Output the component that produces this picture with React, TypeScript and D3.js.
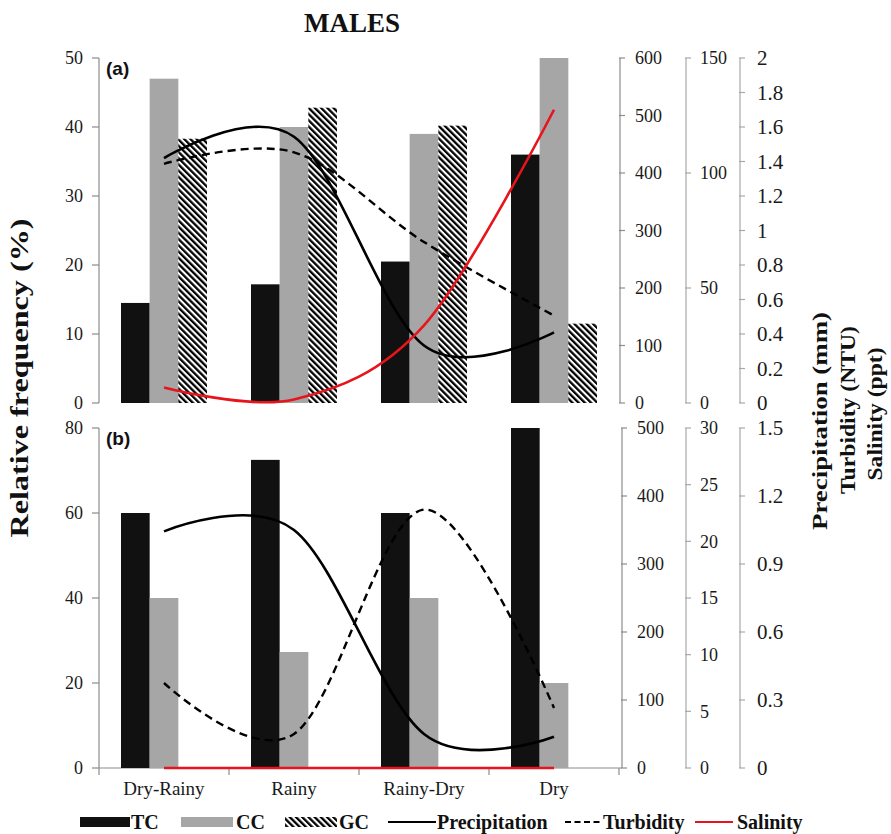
import React from "react";
import * as d3 from "d3";

const categories = ["Dry-Rainy", "Rainy", "Rainy-Dry", "Dry"];
const groups = ["TC", "CC", "GC"];

// Panel (a)
const tcA = [14.5, 17.2, 20.5, 36];
const ccA = [47, 40, 39, 50];
const gcA = [38.3, 42.8, 40.2, 11.5];
const precipA = [426, 463, 100, 123];
const turbA = [104, 109, 70, 38];
const salA = [0.09, 0.02, 0.45, 1.7];

// Panel (b)
const tcB = [60, 72.5, 60, 80];
const ccB = [40, 27.3, 40, 20];
const gcB = [0, 0, 0, 0];
const precipB = [348, 350, 50, 46];
const turbB = [7.5, 3, 22.8, 5.3];
const salB = [0, 0, 0, 0];

const freqTicksA = [0, 10, 20, 30, 40, 50];
const precipTicksA = [0, 100, 200, 300, 400, 500, 600];
const turbTicksA = [0, 50, 100, 150];
const salTicksA = [0, 0.2, 0.4, 0.6, 0.8, 1, 1.2, 1.4, 1.6, 1.8, 2];

const freqTicksB = [0, 20, 40, 60, 80];
const precipTicksB = [0, 100, 200, 300, 400, 500];
const turbTicksB = [0, 5, 10, 15, 20, 25, 30];
const salTicksB = [0, 0.3, 0.6, 0.9, 1.2, 1.5];

const SERIF =
  '"Liberation Serif", "Tinos", "Noto Serif", "DejaVu Serif", "FreeSerif", "Nimbus Roman", "Nimbus Roman No9 L", "Times New Roman", Times, serif';
const SANS = '"Liberation Sans", Arial, sans-serif';
const TC_COLOR = "#111111";
const CC_COLOR = "#a6a6a6";
const AXIS_COLOR = "#8c8c8c";
const RAXIS_COLOR = "#a8a8a8";
const TEXT_COLOR = "#1a1a1a";

const xBand = d3.scaleBand().domain(categories).range([99, 619]).padding(0);
const xInner = d3.scaleBand().domain(groups).range([22, 108]).padding(0);
const cx = (c: string) => (xBand(c) as number) + xBand.bandwidth() / 2;

const fmt = (v: number) => {
  const s = d3.format(".1f")(v);
  return s.endsWith(".0") ? s.slice(0, -2) : s;
};

type PanelProps = {
  top: number;
  bottom: number;
  freqMax: number;
  freqTicks: number[];
  precipMax: number;
  precipTicks: number[];
  turbMax: number;
  turbTicks: number[];
  salMax: number;
  salTicks: number[];
  tc: number[];
  cc: number[];
  gc: number[];
  precip: number[];
  turb: number[];
  sal: number[];
  label: string;
  precipAxisX: number;
  showXAxis: boolean;
};

function Panel(p: PanelProps) {
  const yF = d3.scaleLinear().domain([0, p.freqMax]).range([p.bottom, p.top]);
  const yP = d3.scaleLinear().domain([0, p.precipMax]).range([p.bottom, p.top]);
  const yT = d3.scaleLinear().domain([0, p.turbMax]).range([p.bottom, p.top]);
  const yS = d3.scaleLinear().domain([0, p.salMax]).range([p.bottom, p.top]);

  const curve = d3.curveCardinal.tension(0);
  const mk = (scale: d3.ScaleLinear<number, number>) =>
    d3
      .line<number>()
      .x((_, i) => cx(categories[i]))
      .y((d) => scale(d))
      .curve(curve);

  const series = [
    { key: "TC", vals: p.tc, fill: TC_COLOR },
    { key: "CC", vals: p.cc, fill: CC_COLOR },
    { key: "GC", vals: p.gc, fill: "url(#hatch)" },
  ];

  const rightAxis = (
    x: number,
    scale: d3.ScaleLinear<number, number>,
    ticks: number[],
    fontSize: number,
    labelDx: number,
    color: string
  ) => (
    <g>
      <line x1={x} x2={x} y1={scale(ticks[0])} y2={scale(ticks[ticks.length - 1])} stroke={color} strokeWidth={1.2} />
      {ticks.map((t) => (
        <g key={t}>
          <line x1={x - 1} x2={x + 5} y1={scale(t)} y2={scale(t)} stroke={color} strokeWidth={1.2} />
          <text
            x={x + labelDx}
            y={scale(t)}
            dy="0.35em"
            style={{ fontFamily: SERIF }}
            fontSize={fontSize}
            fill={TEXT_COLOR}
          >
            {fmt(t)}
          </text>
        </g>
      ))}
    </g>
  );

  return (
    <g>
      <line x1={99} x2={99} y1={p.bottom} y2={p.top} stroke={AXIS_COLOR} strokeWidth={1.2} />
      {p.freqTicks.map((t) => (
        <g key={t}>
          <line x1={92} x2={99} y1={yF(t)} y2={yF(t)} stroke={AXIS_COLOR} strokeWidth={1.2} />
          <text
            x={83}
            y={yF(t)}
            dy="0.35em"
            textAnchor="end"
            style={{ fontFamily: SERIF }}
            fontSize={18}
            fill={TEXT_COLOR}
          >
            {t}
          </text>
        </g>
      ))}

      {p.showXAxis && (
        <g>
          <line x1={99} x2={p.precipAxisX} y1={p.bottom} y2={p.bottom} stroke={AXIS_COLOR} strokeWidth={1.2} />
          {[...categories.map((c) => xBand(c) as number), 619].map((x, i) => (
            <line key={i} x1={x} x2={x} y1={p.bottom} y2={p.bottom + 7} stroke={AXIS_COLOR} strokeWidth={1.2} />
          ))}
        </g>
      )}

      {series.map((s) =>
        categories.map((c, i) =>
          s.vals[i] > 0 ? (
            <rect
              key={s.key + c}
              x={(xBand(c) as number) + (xInner(s.key) as number)}
              width={xInner.bandwidth()}
              y={yF(s.vals[i])}
              height={p.bottom - yF(s.vals[i])}
              fill={s.fill}
            />
          ) : null
        )
      )}

      {rightAxis(p.precipAxisX, yP, p.precipTicks, 18, 15, AXIS_COLOR)}
      {rightAxis(686, yT, p.turbTicks, 18, 14, RAXIS_COLOR)}
      {rightAxis(740, yS, p.salTicks, 21, 17, RAXIS_COLOR)}

      <path d={mk(yP)(p.precip) as string} fill="none" stroke="#000" strokeWidth={2.6} />
      <path d={mk(yT)(p.turb) as string} fill="none" stroke="#000" strokeWidth={2.4} strokeDasharray="8,5" />
      <path d={mk(yS)(p.sal) as string} fill="none" stroke="#e8141c" strokeWidth={2.6} />

      <text x={106} y={p.top + 17} style={{ fontFamily: SANS }} fontWeight="bold" fontSize={19} fill="#111">
        {p.label}
      </text>
    </g>
  );
}

export default function App() {
  const legendY = 822;
  return (
    <svg
      width={891}
      height={834}
      viewBox="0 0 891 834"
      style={{ position: "absolute", left: 0, top: 0, background: "#fff" }}
    >
      <defs>
        <pattern id="hatch" patternUnits="userSpaceOnUse" width={4.4} height={4.4} patternTransform="rotate(-45)">
          <rect x={0} y={0} width={4.4} height={4.4} fill="#fff" />
          <rect x={0} y={0} width={2.3} height={4.4} fill="#000" />
        </pattern>
      </defs>
      <rect x={0} y={0} width={891} height={834} fill="#fff" />

      <text x={352} y={32} textAnchor="middle" style={{ fontFamily: SERIF }} fontWeight="bold" fontSize={27} fill="#111">
        MALES
      </text>

      <Panel
        top={58}
        bottom={403}
        freqMax={50}
        freqTicks={freqTicksA}
        precipMax={600}
        precipTicks={precipTicksA}
        turbMax={150}
        turbTicks={turbTicksA}
        salMax={2}
        salTicks={salTicksA}
        tc={tcA}
        cc={ccA}
        gc={gcA}
        precip={precipA}
        turb={turbA}
        sal={salA}
        label="(a)"
        precipAxisX={620}
        showXAxis={false}
      />
      <Panel
        top={428}
        bottom={768}
        freqMax={80}
        freqTicks={freqTicksB}
        precipMax={500}
        precipTicks={precipTicksB}
        turbMax={30}
        turbTicks={turbTicksB}
        salMax={1.5}
        salTicks={salTicksB}
        tc={tcB}
        cc={ccB}
        gc={gcB}
        precip={precipB}
        turb={turbB}
        sal={salB}
        label="(b)"
        precipAxisX={622}
        showXAxis={true}
      />

      {categories.map((c) => (
        <text key={c} x={cx(c)} y={795} textAnchor="middle" style={{ fontFamily: SERIF }} fontSize={19} fill={TEXT_COLOR}>
          {c}
        </text>
      ))}

      <text
        transform="translate(28,378) rotate(-90)"
        textAnchor="middle"
        style={{ fontFamily: SERIF }}
        fontWeight="bold"
        fontSize={25}
        fill="#111"
        textLength={319}
        lengthAdjust="spacingAndGlyphs"
      >
        Relative frequency (%)
      </text>
      <text
        transform="translate(827,421) rotate(-90)"
        textAnchor="middle"
        style={{ fontFamily: SERIF }}
        fontWeight="bold"
        fontSize={21}
        fill="#111"
        textLength={218}
        lengthAdjust="spacingAndGlyphs"
      >
        Precipitation (mm)
      </text>
      <text
        transform="translate(855,410) rotate(-90)"
        textAnchor="middle"
        style={{ fontFamily: SERIF }}
        fontWeight="bold"
        fontSize={21}
        fill="#111"
        textLength={168}
        lengthAdjust="spacingAndGlyphs"
      >
        Turbidity (NTU)
      </text>
      <text
        transform="translate(882,414) rotate(-90)"
        textAnchor="middle"
        style={{ fontFamily: SERIF }}
        fontWeight="bold"
        fontSize={21}
        fill="#111"
        textLength={133}
        lengthAdjust="spacingAndGlyphs"
      >
        Salinity (ppt)
      </text>

      <g style={{ fontFamily: SERIF }} fontWeight="bold" fontSize={20} fill="#111">
        <rect x={80} y={legendY - 5} width={50} height={10} fill={TC_COLOR} />
        <text x={131} y={legendY + 7}>TC</text>
        <rect x={181} y={legendY - 5} width={52} height={10} fill={CC_COLOR} />
        <text x={236} y={legendY + 7}>CC</text>
        <rect x={285} y={legendY - 5} width={52} height={10} fill="url(#hatch)" />
        <text x={339} y={legendY + 7}>GC</text>
        <line x1={388} x2={436} y1={legendY} y2={legendY} stroke="#000" strokeWidth={2} />
        <text x={437} y={legendY + 7}>Precipitation</text>
        <line x1={565} x2={603} y1={legendY} y2={legendY} stroke="#000" strokeWidth={2} strokeDasharray="6,3.5" />
        <text x={603} y={legendY + 7}>Turbidity</text>
        <line x1={695} x2={733} y1={legendY} y2={legendY} stroke="#e8141c" strokeWidth={2.2} />
        <text x={737} y={legendY + 7}>Salinity</text>
      </g>
    </svg>
  );
}
